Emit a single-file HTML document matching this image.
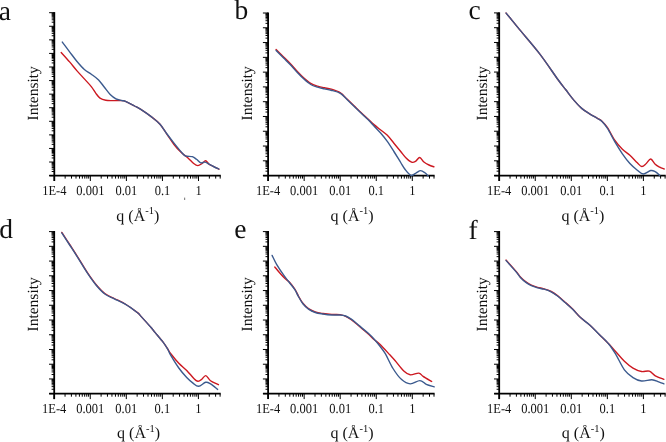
<!DOCTYPE html><html><head><meta charset="utf-8"><style>html,body{margin:0;padding:0;background:#fff;width:666px;height:442px;overflow:hidden}svg{display:block;will-change:transform}text{font-family:"Liberation Serif",serif;fill:#111;text-rendering:geometricPrecision}</style></head><body>
<svg width="666" height="442" viewBox="0 0 666 442">
<g><path d="M54.30 12.10 V181.00" stroke="#000" stroke-width="1.8" fill="none"/><path d="M49.30 175.60 H220.80" stroke="#000" stroke-width="1.8" fill="none"/><path d="M49.10 175.60H54.30M51.70 171.51H54.30M51.70 169.12H54.30M51.70 167.43H54.30M51.70 166.11H54.30M51.70 165.04H54.30M51.70 164.13H54.30M51.70 163.34H54.30M51.70 162.65H54.30M49.10 162.03H54.30M51.70 157.94H54.30M51.70 155.55H54.30M51.70 153.85H54.30M51.70 152.54H54.30M51.70 151.46H54.30M51.70 150.55H54.30M51.70 149.77H54.30M51.70 149.07H54.30M49.10 148.45H54.30M51.70 144.36H54.30M51.70 141.97H54.30M51.70 140.28H54.30M51.70 138.96H54.30M51.70 137.89H54.30M51.70 136.98H54.30M51.70 136.19H54.30M51.70 135.50H54.30M49.10 134.88H54.30M51.70 130.79H54.30M51.70 128.40H54.30M51.70 126.70H54.30M51.70 125.39H54.30M51.70 124.31H54.30M51.70 123.40H54.30M51.70 122.62H54.30M51.70 121.92H54.30M49.10 121.30H54.30M51.70 117.21H54.30M51.70 114.82H54.30M51.70 113.13H54.30M51.70 111.81H54.30M51.70 110.74H54.30M51.70 109.83H54.30M51.70 109.04H54.30M51.70 108.35H54.30M49.10 107.72H54.30M51.70 103.64H54.30M51.70 101.25H54.30M51.70 99.55H54.30M51.70 98.24H54.30M51.70 97.16H54.30M51.70 96.25H54.30M51.70 95.47H54.30M51.70 94.77H54.30M49.10 94.15H54.30M51.70 90.06H54.30M51.70 87.67H54.30M51.70 85.98H54.30M51.70 84.66H54.30M51.70 83.59H54.30M51.70 82.68H54.30M51.70 81.89H54.30M51.70 81.20H54.30M49.10 80.57H54.30M51.70 76.49H54.30M51.70 74.10H54.30M51.70 72.40H54.30M51.70 71.09H54.30M51.70 70.01H54.30M51.70 69.10H54.30M51.70 68.32H54.30M51.70 67.62H54.30M49.10 67.00H54.30M51.70 62.91H54.30M51.70 60.52H54.30M51.70 58.83H54.30M51.70 57.51H54.30M51.70 56.44H54.30M51.70 55.53H54.30M51.70 54.74H54.30M51.70 54.05H54.30M49.10 53.42H54.30M51.70 49.34H54.30M51.70 46.95H54.30M51.70 45.25H54.30M51.70 43.94H54.30M51.70 42.86H54.30M51.70 41.95H54.30M51.70 41.17H54.30M51.70 40.47H54.30M49.10 39.85H54.30M51.70 35.76H54.30M51.70 33.37H54.30M51.70 31.68H54.30M51.70 30.36H54.30M51.70 29.29H54.30M51.70 28.38H54.30M51.70 27.59H54.30M51.70 26.90H54.30M49.10 26.27H54.30M51.70 22.19H54.30M51.70 19.80H54.30M51.70 18.10H54.30M51.70 16.79H54.30M51.70 15.71H54.30M51.70 14.80H54.30M51.70 14.02H54.30M51.70 13.32H54.30M49.10 12.70H54.30M54.30 175.60V181.00M65.15 175.60V178.60M71.50 175.60V178.60M76.00 175.60V178.60M79.50 175.60V178.60M82.35 175.60V178.60M84.77 175.60V178.60M86.86 175.60V178.60M88.70 175.60V178.60M90.35 175.60V181.00M101.20 175.60V178.60M107.55 175.60V178.60M112.05 175.60V178.60M115.55 175.60V178.60M118.40 175.60V178.60M120.82 175.60V178.60M122.91 175.60V178.60M124.75 175.60V178.60M126.40 175.60V181.00M137.25 175.60V178.60M143.60 175.60V178.60M148.10 175.60V178.60M151.60 175.60V178.60M154.45 175.60V178.60M156.87 175.60V178.60M158.96 175.60V178.60M160.80 175.60V178.60M162.45 175.60V181.00M173.30 175.60V178.60M179.65 175.60V178.60M184.15 175.60V178.60M187.65 175.60V178.60M190.50 175.60V178.60M192.92 175.60V178.60M195.01 175.60V178.60M196.85 175.60V178.60M198.50 175.60V181.00M209.35 175.60V178.60M215.70 175.60V178.60M220.20 175.60V178.60" stroke="#000" stroke-width="1" fill="none"/><text transform="translate(54.30 195.00) scale(1 1.1)" font-size="12.5" text-anchor="middle">1E-4</text><text transform="translate(90.35 195.00) scale(1 1.1)" font-size="12.5" text-anchor="middle">0.001</text><text transform="translate(126.40 195.00) scale(1 1.1)" font-size="12.5" text-anchor="middle">0.01</text><text transform="translate(162.45 195.00) scale(1 1.1)" font-size="12.5" text-anchor="middle">0.1</text><text transform="translate(198.50 195.00) scale(1 1.1)" font-size="12.5" text-anchor="middle">1</text><text transform="translate(37.90 93.25) rotate(-90)" font-size="15.5" text-anchor="middle">Intensity</text><text x="116.30" y="220.70" font-size="16">q (Å<tspan font-size="10.5" dy="-6.5">-1</tspan><tspan dy="6.5">)</tspan></text><text x="-1.20" y="19.60" font-size="27.5">a</text><path d="M61.20 52.50 C62.60 54.07 67.00 58.88 69.60 61.90 C72.20 64.92 74.38 67.82 76.80 70.60 C79.22 73.38 81.68 75.93 84.10 78.60 C86.52 81.27 89.37 84.18 91.30 86.60 C93.23 89.02 94.25 91.18 95.70 93.10 C97.15 95.02 98.32 96.90 100.00 98.10 C101.68 99.30 103.62 99.88 105.80 100.30 C107.98 100.72 110.43 100.55 113.10 100.60 C115.77 100.65 119.65 100.43 121.80 100.60 C123.95 100.77 123.87 100.70 126.00 101.60 C128.13 102.50 132.13 104.70 134.60 106.00 C137.07 107.30 137.98 107.58 140.80 109.40 C143.62 111.22 148.30 114.43 151.50 116.90 C154.70 119.37 157.42 121.30 160.00 124.20 C162.58 127.10 164.67 130.92 167.00 134.30 C169.33 137.68 171.67 141.50 174.00 144.50 C176.33 147.50 178.67 150.07 181.00 152.30 C183.33 154.53 185.88 156.03 188.00 157.90 C190.12 159.77 192.05 162.22 193.70 163.50 C195.35 164.78 196.50 165.60 197.90 165.60 C199.30 165.60 200.82 164.32 202.10 163.50 C203.38 162.68 204.43 160.58 205.60 160.70 C206.77 160.82 207.82 163.27 209.10 164.20 C210.38 165.13 211.67 165.48 213.30 166.30 C214.93 167.12 217.97 168.63 218.90 169.10" stroke="#cc1820" stroke-width="1.4" fill="none" stroke-linecap="round" stroke-linejoin="round"/><path d="M62.30 42.10 C63.52 43.72 67.18 48.62 69.60 51.80 C72.02 54.98 74.38 58.30 76.80 61.20 C79.22 64.10 81.68 67.03 84.10 69.20 C86.52 71.37 88.88 72.40 91.30 74.20 C93.72 76.00 96.42 77.82 98.60 80.00 C100.78 82.18 102.47 84.88 104.40 87.30 C106.33 89.72 108.27 92.57 110.20 94.50 C112.13 96.43 114.07 97.90 116.00 98.90 C117.93 99.90 120.13 100.05 121.80 100.50 C123.47 100.95 123.87 100.68 126.00 101.60 C128.13 102.52 132.13 104.70 134.60 106.00 C137.07 107.30 137.98 107.58 140.80 109.40 C143.62 111.22 148.30 114.43 151.50 116.90 C154.70 119.37 157.42 121.35 160.00 124.20 C162.58 127.05 164.67 130.85 167.00 134.00 C169.33 137.15 171.67 140.17 174.00 143.10 C176.33 146.03 179.13 149.48 181.00 151.60 C182.87 153.72 183.32 154.95 185.20 155.80 C187.08 156.65 190.42 156.12 192.30 156.70 C194.18 157.28 195.10 158.28 196.50 159.30 C197.90 160.32 199.30 162.33 200.70 162.80 C202.10 163.27 203.50 161.87 204.90 162.10 C206.30 162.33 207.67 163.47 209.10 164.20 C210.53 164.93 211.87 165.68 213.50 166.50 C215.13 167.32 218.00 168.67 218.90 169.10" stroke="#3b5a8e" stroke-width="1.4" fill="none" stroke-linecap="round" stroke-linejoin="round"/></g>
<g><path d="M268.10 12.40 V181.00" stroke="#000" stroke-width="1.8" fill="none"/><path d="M263.10 175.60 H434.60" stroke="#000" stroke-width="1.8" fill="none"/><path d="M262.90 175.60H268.10M265.50 171.15H268.10M265.50 168.55H268.10M265.50 166.70H268.10M265.50 165.27H268.10M265.50 164.10H268.10M265.50 163.11H268.10M265.50 162.25H268.10M265.50 161.49H268.10M262.90 160.82H268.10M265.50 156.37H268.10M265.50 153.77H268.10M265.50 151.92H268.10M265.50 150.49H268.10M265.50 149.32H268.10M265.50 148.33H268.10M265.50 147.47H268.10M265.50 146.71H268.10M262.90 146.04H268.10M265.50 141.59H268.10M265.50 138.98H268.10M265.50 137.14H268.10M265.50 135.70H268.10M265.50 134.53H268.10M265.50 133.54H268.10M265.50 132.69H268.10M265.50 131.93H268.10M262.90 131.25H268.10M265.50 126.80H268.10M265.50 124.20H268.10M265.50 122.36H268.10M265.50 120.92H268.10M265.50 119.75H268.10M265.50 118.76H268.10M265.50 117.91H268.10M265.50 117.15H268.10M262.90 116.47H268.10M265.50 112.02H268.10M265.50 109.42H268.10M265.50 107.57H268.10M265.50 106.14H268.10M265.50 104.97H268.10M265.50 103.98H268.10M265.50 103.12H268.10M265.50 102.37H268.10M262.90 101.69H268.10M265.50 97.24H268.10M265.50 94.64H268.10M265.50 92.79H268.10M265.50 91.36H268.10M265.50 90.19H268.10M265.50 89.20H268.10M265.50 88.34H268.10M265.50 87.59H268.10M262.90 86.91H268.10M265.50 82.46H268.10M265.50 79.86H268.10M265.50 78.01H268.10M265.50 76.58H268.10M265.50 75.41H268.10M265.50 74.42H268.10M265.50 73.56H268.10M265.50 72.80H268.10M262.90 72.13H268.10M265.50 67.68H268.10M265.50 65.07H268.10M265.50 63.23H268.10M265.50 61.80H268.10M265.50 60.62H268.10M265.50 59.64H268.10M265.50 58.78H268.10M265.50 58.02H268.10M262.90 57.35H268.10M265.50 52.90H268.10M265.50 50.29H268.10M265.50 48.45H268.10M265.50 47.01H268.10M265.50 45.84H268.10M265.50 44.85H268.10M265.50 44.00H268.10M265.50 43.24H268.10M262.90 42.56H268.10M265.50 38.11H268.10M265.50 35.51H268.10M265.50 33.66H268.10M265.50 32.23H268.10M265.50 31.06H268.10M265.50 30.07H268.10M265.50 29.21H268.10M265.50 28.46H268.10M262.90 27.78H268.10M265.50 23.33H268.10M265.50 20.73H268.10M265.50 18.88H268.10M265.50 17.45H268.10M265.50 16.28H268.10M265.50 15.29H268.10M265.50 14.43H268.10M265.50 13.68H268.10M262.90 13.00H268.10M268.10 175.60V181.00M278.95 175.60V178.60M285.30 175.60V178.60M289.80 175.60V178.60M293.30 175.60V178.60M296.15 175.60V178.60M298.57 175.60V178.60M300.66 175.60V178.60M302.50 175.60V178.60M304.15 175.60V181.00M315.00 175.60V178.60M321.35 175.60V178.60M325.85 175.60V178.60M329.35 175.60V178.60M332.20 175.60V178.60M334.62 175.60V178.60M336.71 175.60V178.60M338.55 175.60V178.60M340.20 175.60V181.00M351.05 175.60V178.60M357.40 175.60V178.60M361.90 175.60V178.60M365.40 175.60V178.60M368.25 175.60V178.60M370.67 175.60V178.60M372.76 175.60V178.60M374.60 175.60V178.60M376.25 175.60V181.00M387.10 175.60V178.60M393.45 175.60V178.60M397.95 175.60V178.60M401.45 175.60V178.60M404.30 175.60V178.60M406.72 175.60V178.60M408.81 175.60V178.60M410.65 175.60V178.60M412.30 175.60V181.00M423.15 175.60V178.60M429.50 175.60V178.60M434.00 175.60V178.60" stroke="#000" stroke-width="1" fill="none"/><text transform="translate(268.10 195.00) scale(1 1.1)" font-size="12.5" text-anchor="middle">1E-4</text><text transform="translate(304.15 195.00) scale(1 1.1)" font-size="12.5" text-anchor="middle">0.001</text><text transform="translate(340.20 195.00) scale(1 1.1)" font-size="12.5" text-anchor="middle">0.01</text><text transform="translate(376.25 195.00) scale(1 1.1)" font-size="12.5" text-anchor="middle">0.1</text><text transform="translate(412.30 195.00) scale(1 1.1)" font-size="12.5" text-anchor="middle">1</text><text transform="translate(252.20 93.25) rotate(-90)" font-size="15.5" text-anchor="middle">Intensity</text><text x="330.60" y="220.70" font-size="16">q (Å<tspan font-size="10.5" dy="-6.5">-1</tspan><tspan dy="6.5">)</tspan></text><text x="234.40" y="19.40" font-size="27.5">b</text><path d="M276.10 49.50 C277.35 50.75 281.22 54.63 283.60 57.00 C285.98 59.37 288.15 61.33 290.40 63.70 C292.65 66.07 294.85 68.82 297.10 71.20 C299.35 73.58 301.63 75.97 303.90 78.00 C306.17 80.03 308.43 82.05 310.70 83.40 C312.97 84.75 315.23 85.37 317.50 86.10 C319.77 86.83 322.03 87.30 324.30 87.80 C326.57 88.30 328.42 88.27 331.10 89.10 C333.78 89.93 337.75 91.13 340.40 92.80 C343.05 94.47 344.73 96.93 347.00 99.10 C349.27 101.27 351.67 103.55 354.00 105.80 C356.33 108.05 358.67 110.40 361.00 112.60 C363.33 114.80 365.83 117.00 368.00 119.00 C370.17 121.00 371.93 122.80 374.00 124.60 C376.07 126.40 378.22 128.05 380.40 129.80 C382.58 131.55 384.85 132.87 387.10 135.10 C389.35 137.33 391.63 140.47 393.90 143.20 C396.17 145.93 398.67 149.03 400.70 151.50 C402.73 153.97 404.28 156.22 406.10 158.00 C407.92 159.78 410.02 161.65 411.60 162.20 C413.18 162.75 414.25 162.08 415.60 161.30 C416.95 160.52 418.32 157.38 419.70 157.50 C421.08 157.62 422.35 160.75 423.90 162.00 C425.45 163.25 427.32 164.20 429.00 165.00 C430.68 165.80 433.17 166.50 434.00 166.80" stroke="#cc1820" stroke-width="1.4" fill="none" stroke-linecap="round" stroke-linejoin="round"/><path d="M276.10 50.60 C277.35 51.85 281.22 55.73 283.60 58.10 C285.98 60.47 288.15 62.43 290.40 64.80 C292.65 67.17 294.85 69.92 297.10 72.30 C299.35 74.68 301.63 77.07 303.90 79.10 C306.17 81.13 308.43 83.15 310.70 84.50 C312.97 85.85 315.23 86.47 317.50 87.20 C319.77 87.93 322.03 88.40 324.30 88.90 C326.57 89.40 328.42 89.47 331.10 90.20 C333.78 90.93 337.75 91.73 340.40 93.30 C343.05 94.87 344.73 97.43 347.00 99.60 C349.27 101.77 351.67 104.05 354.00 106.30 C356.33 108.55 358.67 110.88 361.00 113.10 C363.33 115.32 365.83 117.45 368.00 119.60 C370.17 121.75 371.93 123.80 374.00 126.00 C376.07 128.20 378.22 130.27 380.40 132.80 C382.58 135.33 384.85 138.08 387.10 141.20 C389.35 144.32 391.63 147.95 393.90 151.50 C396.17 155.05 398.88 159.58 400.70 162.50 C402.52 165.42 403.08 166.85 404.80 169.00 C406.52 171.15 409.08 174.77 411.00 175.40 C412.92 176.03 414.70 173.60 416.30 172.80 C417.90 172.00 419.15 170.60 420.60 170.60 C422.05 170.60 423.73 171.90 425.00 172.80 C426.27 173.70 427.67 175.47 428.20 176.00" stroke="#3b5a8e" stroke-width="1.4" fill="none" stroke-linecap="round" stroke-linejoin="round"/></g>
<g><path d="M499.20 12.30 V181.00" stroke="#000" stroke-width="1.8" fill="none"/><path d="M494.20 175.60 H665.70" stroke="#000" stroke-width="1.8" fill="none"/><path d="M494.00 175.60H499.20M496.60 171.15H499.20M496.60 168.54H499.20M496.60 166.69H499.20M496.60 165.26H499.20M496.60 164.09H499.20M496.60 163.10H499.20M496.60 162.24H499.20M496.60 161.49H499.20M494.00 160.81H499.20M496.60 156.36H499.20M496.60 153.75H499.20M496.60 151.90H499.20M496.60 150.47H499.20M496.60 149.30H499.20M496.60 148.31H499.20M496.60 147.45H499.20M496.60 146.69H499.20M494.00 146.02H499.20M496.60 141.57H499.20M496.60 138.96H499.20M496.60 137.11H499.20M496.60 135.68H499.20M496.60 134.51H499.20M496.60 133.52H499.20M496.60 132.66H499.20M496.60 131.90H499.20M494.00 131.23H499.20M496.60 126.77H499.20M496.60 124.17H499.20M496.60 122.32H499.20M496.60 120.89H499.20M496.60 119.72H499.20M496.60 118.73H499.20M496.60 117.87H499.20M496.60 117.11H499.20M494.00 116.44H499.20M496.60 111.98H499.20M496.60 109.38H499.20M496.60 107.53H499.20M496.60 106.10H499.20M496.60 104.93H499.20M496.60 103.94H499.20M496.60 103.08H499.20M496.60 102.32H499.20M494.00 101.65H499.20M496.60 97.19H499.20M496.60 94.59H499.20M496.60 92.74H499.20M496.60 91.31H499.20M496.60 90.14H499.20M496.60 89.15H499.20M496.60 88.29H499.20M496.60 87.53H499.20M494.00 86.85H499.20M496.60 82.40H499.20M496.60 79.80H499.20M496.60 77.95H499.20M496.60 76.52H499.20M496.60 75.34H499.20M496.60 74.35H499.20M496.60 73.50H499.20M496.60 72.74H499.20M494.00 72.06H499.20M496.60 67.61H499.20M496.60 65.01H499.20M496.60 63.16H499.20M496.60 61.73H499.20M496.60 60.55H499.20M496.60 59.56H499.20M496.60 58.71H499.20M496.60 57.95H499.20M494.00 57.27H499.20M496.60 52.82H499.20M496.60 50.22H499.20M496.60 48.37H499.20M496.60 46.93H499.20M496.60 45.76H499.20M496.60 44.77H499.20M496.60 43.92H499.20M496.60 43.16H499.20M494.00 42.48H499.20M496.60 38.03H499.20M496.60 35.42H499.20M496.60 33.58H499.20M496.60 32.14H499.20M496.60 30.97H499.20M496.60 29.98H499.20M496.60 29.12H499.20M496.60 28.37H499.20M494.00 27.69H499.20M496.60 23.24H499.20M496.60 20.63H499.20M496.60 18.79H499.20M496.60 17.35H499.20M496.60 16.18H499.20M496.60 15.19H499.20M496.60 14.33H499.20M496.60 13.58H499.20M494.00 12.90H499.20M499.20 175.60V181.00M510.05 175.60V178.60M516.40 175.60V178.60M520.90 175.60V178.60M524.40 175.60V178.60M527.25 175.60V178.60M529.67 175.60V178.60M531.76 175.60V178.60M533.60 175.60V178.60M535.25 175.60V181.00M546.10 175.60V178.60M552.45 175.60V178.60M556.95 175.60V178.60M560.45 175.60V178.60M563.30 175.60V178.60M565.72 175.60V178.60M567.81 175.60V178.60M569.65 175.60V178.60M571.30 175.60V181.00M582.15 175.60V178.60M588.50 175.60V178.60M593.00 175.60V178.60M596.50 175.60V178.60M599.35 175.60V178.60M601.77 175.60V178.60M603.86 175.60V178.60M605.70 175.60V178.60M607.35 175.60V181.00M618.20 175.60V178.60M624.55 175.60V178.60M629.05 175.60V178.60M632.55 175.60V178.60M635.40 175.60V178.60M637.82 175.60V178.60M639.91 175.60V178.60M641.75 175.60V178.60M643.40 175.60V181.00M654.25 175.60V178.60M660.60 175.60V178.60M665.10 175.60V178.60" stroke="#000" stroke-width="1" fill="none"/><text transform="translate(499.20 195.00) scale(1 1.1)" font-size="12.5" text-anchor="middle">1E-4</text><text transform="translate(535.25 195.00) scale(1 1.1)" font-size="12.5" text-anchor="middle">0.001</text><text transform="translate(571.30 195.00) scale(1 1.1)" font-size="12.5" text-anchor="middle">0.01</text><text transform="translate(607.35 195.00) scale(1 1.1)" font-size="12.5" text-anchor="middle">0.1</text><text transform="translate(643.40 195.00) scale(1 1.1)" font-size="12.5" text-anchor="middle">1</text><text transform="translate(487.30 93.25) rotate(-90)" font-size="15.5" text-anchor="middle">Intensity</text><text x="561.40" y="220.70" font-size="16">q (Å<tspan font-size="10.5" dy="-6.5">-1</tspan><tspan dy="6.5">)</tspan></text><text x="468.40" y="19.20" font-size="27.5">c</text><path d="M506.10 13.10 C508.32 15.82 513.80 22.60 519.40 29.40 C525.00 36.20 533.28 45.55 539.70 53.90 C546.12 62.25 553.55 73.52 557.90 79.50 C562.25 85.48 563.15 86.37 565.80 89.80 C568.45 93.23 571.15 97.00 573.80 100.10 C576.45 103.20 579.07 106.12 581.70 108.40 C584.33 110.68 586.97 112.15 589.60 113.80 C592.23 115.45 595.43 117.07 597.50 118.30 C599.57 119.53 600.33 119.63 602.00 121.20 C603.67 122.77 605.35 124.50 607.50 127.70 C609.65 130.90 612.42 136.80 614.90 140.40 C617.38 144.00 619.90 146.82 622.40 149.30 C624.90 151.78 627.42 153.05 629.90 155.30 C632.38 157.55 635.32 160.93 637.30 162.80 C639.28 164.67 640.30 166.38 641.80 166.50 C643.30 166.62 644.82 164.75 646.30 163.50 C647.78 162.25 649.22 158.87 650.70 159.00 C652.18 159.13 653.70 162.93 655.20 164.30 C656.70 165.67 658.20 166.42 659.70 167.20 C661.20 167.98 663.45 168.70 664.20 169.00" stroke="#cc1820" stroke-width="1.4" fill="none" stroke-linecap="round" stroke-linejoin="round"/><path d="M506.10 13.10 C508.32 15.82 513.80 22.60 519.40 29.40 C525.00 36.20 533.28 45.55 539.70 53.90 C546.12 62.25 553.55 73.52 557.90 79.50 C562.25 85.48 563.15 86.37 565.80 89.80 C568.45 93.23 571.15 97.00 573.80 100.10 C576.45 103.20 579.07 106.12 581.70 108.40 C584.33 110.68 586.97 112.12 589.60 113.80 C592.23 115.48 595.43 117.22 597.50 118.50 C599.57 119.78 600.33 119.85 602.00 121.50 C603.67 123.15 605.35 125.00 607.50 128.40 C609.65 131.80 612.42 137.67 614.90 141.90 C617.38 146.13 619.90 150.20 622.40 153.80 C624.90 157.40 627.42 160.77 629.90 163.50 C632.38 166.23 635.07 168.45 637.30 170.20 C639.53 171.95 641.07 173.95 643.30 174.00 C645.53 174.05 648.72 170.88 650.70 170.50 C652.68 170.12 653.70 170.88 655.20 171.70 C656.70 172.52 658.95 174.78 659.70 175.40" stroke="#3b5a8e" stroke-width="1.4" fill="none" stroke-linecap="round" stroke-linejoin="round"/></g>
<g><path d="M54.20 231.00 V399.10" stroke="#000" stroke-width="1.8" fill="none"/><path d="M49.20 393.70 H220.70" stroke="#000" stroke-width="1.8" fill="none"/><path d="M49.00 393.70H54.20M51.60 389.26H54.20M51.60 386.67H54.20M51.60 384.83H54.20M51.60 383.40H54.20M51.60 382.23H54.20M51.60 381.25H54.20M51.60 380.39H54.20M51.60 379.64H54.20M49.00 378.96H54.20M51.60 374.53H54.20M51.60 371.93H54.20M51.60 370.09H54.20M51.60 368.66H54.20M51.60 367.50H54.20M51.60 366.51H54.20M51.60 365.66H54.20M51.60 364.90H54.20M49.00 364.23H54.20M51.60 359.79H54.20M51.60 357.20H54.20M51.60 355.36H54.20M51.60 353.93H54.20M51.60 352.76H54.20M51.60 351.77H54.20M51.60 350.92H54.20M51.60 350.17H54.20M49.00 349.49H54.20M51.60 345.05H54.20M51.60 342.46H54.20M51.60 340.62H54.20M51.60 339.19H54.20M51.60 338.02H54.20M51.60 337.04H54.20M51.60 336.18H54.20M51.60 335.43H54.20M49.00 334.75H54.20M51.60 330.32H54.20M51.60 327.72H54.20M51.60 325.88H54.20M51.60 324.45H54.20M51.60 323.29H54.20M51.60 322.30H54.20M51.60 321.45H54.20M51.60 320.69H54.20M49.00 320.02H54.20M51.60 315.58H54.20M51.60 312.99H54.20M51.60 311.15H54.20M51.60 309.72H54.20M51.60 308.55H54.20M51.60 307.56H54.20M51.60 306.71H54.20M51.60 305.96H54.20M49.00 305.28H54.20M51.60 300.85H54.20M51.60 298.25H54.20M51.60 296.41H54.20M51.60 294.98H54.20M51.60 293.81H54.20M51.60 292.83H54.20M51.60 291.97H54.20M51.60 291.22H54.20M49.00 290.55H54.20M51.60 286.11H54.20M51.60 283.51H54.20M51.60 281.67H54.20M51.60 280.25H54.20M51.60 279.08H54.20M51.60 278.09H54.20M51.60 277.24H54.20M51.60 276.48H54.20M49.00 275.81H54.20M51.60 271.37H54.20M51.60 268.78H54.20M51.60 266.94H54.20M51.60 265.51H54.20M51.60 264.34H54.20M51.60 263.36H54.20M51.60 262.50H54.20M51.60 261.75H54.20M49.00 261.07H54.20M51.60 256.64H54.20M51.60 254.04H54.20M51.60 252.20H54.20M51.60 250.77H54.20M51.60 249.61H54.20M51.60 248.62H54.20M51.60 247.76H54.20M51.60 247.01H54.20M49.00 246.34H54.20M51.60 241.90H54.20M51.60 239.31H54.20M51.60 237.46H54.20M51.60 236.04H54.20M51.60 234.87H54.20M51.60 233.88H54.20M51.60 233.03H54.20M51.60 232.27H54.20M49.00 231.60H54.20M54.20 393.70V399.10M65.05 393.70V396.70M71.40 393.70V396.70M75.90 393.70V396.70M79.40 393.70V396.70M82.25 393.70V396.70M84.67 393.70V396.70M86.76 393.70V396.70M88.60 393.70V396.70M90.25 393.70V399.10M101.10 393.70V396.70M107.45 393.70V396.70M111.95 393.70V396.70M115.45 393.70V396.70M118.30 393.70V396.70M120.72 393.70V396.70M122.81 393.70V396.70M124.65 393.70V396.70M126.30 393.70V399.10M137.15 393.70V396.70M143.50 393.70V396.70M148.00 393.70V396.70M151.50 393.70V396.70M154.35 393.70V396.70M156.77 393.70V396.70M158.86 393.70V396.70M160.70 393.70V396.70M162.35 393.70V399.10M173.20 393.70V396.70M179.55 393.70V396.70M184.05 393.70V396.70M187.55 393.70V396.70M190.40 393.70V396.70M192.82 393.70V396.70M194.91 393.70V396.70M196.75 393.70V396.70M198.40 393.70V399.10M209.25 393.70V396.70M215.60 393.70V396.70M220.10 393.70V396.70" stroke="#000" stroke-width="1" fill="none"/><text transform="translate(54.20 413.10) scale(1 1.1)" font-size="12.5" text-anchor="middle">1E-4</text><text transform="translate(90.25 413.10) scale(1 1.1)" font-size="12.5" text-anchor="middle">0.001</text><text transform="translate(126.30 413.10) scale(1 1.1)" font-size="12.5" text-anchor="middle">0.01</text><text transform="translate(162.35 413.10) scale(1 1.1)" font-size="12.5" text-anchor="middle">0.1</text><text transform="translate(198.40 413.10) scale(1 1.1)" font-size="12.5" text-anchor="middle">1</text><text transform="translate(37.90 304.35) rotate(-90)" font-size="15.5" text-anchor="middle">Intensity</text><text x="117.10" y="438.40" font-size="16">q (Å<tspan font-size="10.5" dy="-6.5">-1</tspan><tspan dy="6.5">)</tspan></text><text x="-0.80" y="238.20" font-size="27.5">d</text><path d="M61.80 232.40 C63.17 234.50 67.28 240.80 70.00 245.00 C72.72 249.20 75.25 253.08 78.10 257.60 C80.95 262.12 84.08 267.58 87.10 272.10 C90.12 276.62 93.18 281.08 96.20 284.70 C99.22 288.32 102.18 291.50 105.20 293.80 C108.22 296.10 110.97 296.80 114.30 298.50 C117.63 300.20 121.33 301.65 125.20 304.00 C129.07 306.35 134.90 310.58 137.50 312.60 C140.10 314.62 138.47 313.53 140.80 316.10 C143.13 318.67 149.13 325.28 151.50 328.00 C153.87 330.72 153.10 330.08 155.00 332.40 C156.90 334.72 160.78 339.13 162.90 341.90 C165.02 344.67 166.38 347.02 167.70 349.00 C169.02 350.98 168.95 351.42 170.80 353.80 C172.65 356.18 176.15 360.53 178.80 363.30 C181.45 366.07 183.80 367.50 186.70 370.40 C189.60 373.30 193.82 379.12 196.20 380.70 C198.58 382.28 199.42 380.75 201.00 379.90 C202.58 379.05 204.12 375.47 205.70 375.60 C207.28 375.73 208.38 379.18 210.50 380.70 C212.62 382.22 217.08 384.03 218.40 384.70" stroke="#cc1820" stroke-width="1.4" fill="none" stroke-linecap="round" stroke-linejoin="round"/><path d="M61.80 232.90 C63.17 235.00 67.28 241.30 70.00 245.50 C72.72 249.70 75.25 253.58 78.10 258.10 C80.95 262.62 84.08 268.08 87.10 272.60 C90.12 277.12 93.18 281.58 96.20 285.20 C99.22 288.82 102.18 292.03 105.20 294.30 C108.22 296.57 110.97 297.15 114.30 298.80 C117.63 300.45 121.33 301.87 125.20 304.20 C129.07 306.53 134.90 310.82 137.50 312.80 C140.10 314.78 138.47 313.57 140.80 316.10 C143.13 318.63 149.13 325.28 151.50 328.00 C153.87 330.72 153.10 330.08 155.00 332.40 C156.90 334.72 160.78 339.10 162.90 341.90 C165.02 344.70 166.38 346.95 167.70 349.20 C169.02 351.45 168.95 352.27 170.80 355.40 C172.65 358.53 176.15 364.32 178.80 368.00 C181.45 371.68 184.33 374.98 186.70 377.50 C189.07 380.02 191.02 381.63 193.00 383.10 C194.98 384.57 196.48 386.43 198.60 386.30 C200.72 386.17 203.72 382.70 205.70 382.30 C207.68 381.90 208.52 382.72 210.50 383.90 C212.48 385.08 216.42 388.48 217.60 389.40" stroke="#3b5a8e" stroke-width="1.4" fill="none" stroke-linecap="round" stroke-linejoin="round"/></g>
<g><path d="M268.10 231.00 V399.10" stroke="#000" stroke-width="1.8" fill="none"/><path d="M263.10 393.70 H434.60" stroke="#000" stroke-width="1.8" fill="none"/><path d="M262.90 393.70H268.10M265.50 389.26H268.10M265.50 386.67H268.10M265.50 384.83H268.10M265.50 383.40H268.10M265.50 382.23H268.10M265.50 381.25H268.10M265.50 380.39H268.10M265.50 379.64H268.10M262.90 378.96H268.10M265.50 374.53H268.10M265.50 371.93H268.10M265.50 370.09H268.10M265.50 368.66H268.10M265.50 367.50H268.10M265.50 366.51H268.10M265.50 365.66H268.10M265.50 364.90H268.10M262.90 364.23H268.10M265.50 359.79H268.10M265.50 357.20H268.10M265.50 355.36H268.10M265.50 353.93H268.10M265.50 352.76H268.10M265.50 351.77H268.10M265.50 350.92H268.10M265.50 350.17H268.10M262.90 349.49H268.10M265.50 345.05H268.10M265.50 342.46H268.10M265.50 340.62H268.10M265.50 339.19H268.10M265.50 338.02H268.10M265.50 337.04H268.10M265.50 336.18H268.10M265.50 335.43H268.10M262.90 334.75H268.10M265.50 330.32H268.10M265.50 327.72H268.10M265.50 325.88H268.10M265.50 324.45H268.10M265.50 323.29H268.10M265.50 322.30H268.10M265.50 321.45H268.10M265.50 320.69H268.10M262.90 320.02H268.10M265.50 315.58H268.10M265.50 312.99H268.10M265.50 311.15H268.10M265.50 309.72H268.10M265.50 308.55H268.10M265.50 307.56H268.10M265.50 306.71H268.10M265.50 305.96H268.10M262.90 305.28H268.10M265.50 300.85H268.10M265.50 298.25H268.10M265.50 296.41H268.10M265.50 294.98H268.10M265.50 293.81H268.10M265.50 292.83H268.10M265.50 291.97H268.10M265.50 291.22H268.10M262.90 290.55H268.10M265.50 286.11H268.10M265.50 283.51H268.10M265.50 281.67H268.10M265.50 280.25H268.10M265.50 279.08H268.10M265.50 278.09H268.10M265.50 277.24H268.10M265.50 276.48H268.10M262.90 275.81H268.10M265.50 271.37H268.10M265.50 268.78H268.10M265.50 266.94H268.10M265.50 265.51H268.10M265.50 264.34H268.10M265.50 263.36H268.10M265.50 262.50H268.10M265.50 261.75H268.10M262.90 261.07H268.10M265.50 256.64H268.10M265.50 254.04H268.10M265.50 252.20H268.10M265.50 250.77H268.10M265.50 249.61H268.10M265.50 248.62H268.10M265.50 247.76H268.10M265.50 247.01H268.10M262.90 246.34H268.10M265.50 241.90H268.10M265.50 239.31H268.10M265.50 237.46H268.10M265.50 236.04H268.10M265.50 234.87H268.10M265.50 233.88H268.10M265.50 233.03H268.10M265.50 232.27H268.10M262.90 231.60H268.10M268.10 393.70V399.10M278.95 393.70V396.70M285.30 393.70V396.70M289.80 393.70V396.70M293.30 393.70V396.70M296.15 393.70V396.70M298.57 393.70V396.70M300.66 393.70V396.70M302.50 393.70V396.70M304.15 393.70V399.10M315.00 393.70V396.70M321.35 393.70V396.70M325.85 393.70V396.70M329.35 393.70V396.70M332.20 393.70V396.70M334.62 393.70V396.70M336.71 393.70V396.70M338.55 393.70V396.70M340.20 393.70V399.10M351.05 393.70V396.70M357.40 393.70V396.70M361.90 393.70V396.70M365.40 393.70V396.70M368.25 393.70V396.70M370.67 393.70V396.70M372.76 393.70V396.70M374.60 393.70V396.70M376.25 393.70V399.10M387.10 393.70V396.70M393.45 393.70V396.70M397.95 393.70V396.70M401.45 393.70V396.70M404.30 393.70V396.70M406.72 393.70V396.70M408.81 393.70V396.70M410.65 393.70V396.70M412.30 393.70V399.10M423.15 393.70V396.70M429.50 393.70V396.70M434.00 393.70V396.70" stroke="#000" stroke-width="1" fill="none"/><text transform="translate(268.10 413.10) scale(1 1.1)" font-size="12.5" text-anchor="middle">1E-4</text><text transform="translate(304.15 413.10) scale(1 1.1)" font-size="12.5" text-anchor="middle">0.001</text><text transform="translate(340.20 413.10) scale(1 1.1)" font-size="12.5" text-anchor="middle">0.01</text><text transform="translate(376.25 413.10) scale(1 1.1)" font-size="12.5" text-anchor="middle">0.1</text><text transform="translate(412.30 413.10) scale(1 1.1)" font-size="12.5" text-anchor="middle">1</text><text transform="translate(252.20 304.35) rotate(-90)" font-size="15.5" text-anchor="middle">Intensity</text><text x="330.50" y="438.40" font-size="16">q (Å<tspan font-size="10.5" dy="-6.5">-1</tspan><tspan dy="6.5">)</tspan></text><text x="234.20" y="238.00" font-size="27.5">e</text><path d="M274.80 267.00 C275.60 267.97 277.90 270.87 279.60 272.80 C281.30 274.73 283.38 277.07 285.00 278.60 C286.62 280.13 287.63 280.20 289.30 282.00 C290.97 283.80 293.48 287.07 295.00 289.40 C296.52 291.73 297.08 293.68 298.40 296.00 C299.72 298.32 301.22 301.20 302.90 303.30 C304.58 305.40 306.43 307.15 308.50 308.60 C310.57 310.05 312.88 311.18 315.30 312.00 C317.72 312.82 320.27 313.10 323.00 313.50 C325.73 313.90 328.87 314.22 331.70 314.40 C334.53 314.58 337.67 314.28 340.00 314.60 C342.33 314.92 343.82 315.43 345.70 316.30 C347.58 317.17 349.42 318.47 351.30 319.80 C353.18 321.13 355.10 322.73 357.00 324.30 C358.90 325.87 360.82 327.60 362.70 329.20 C364.58 330.80 366.42 332.20 368.30 333.90 C370.18 335.60 372.12 337.70 374.00 339.40 C375.88 341.10 376.97 341.53 379.60 344.10 C382.23 346.67 387.23 352.07 389.80 354.80 C392.37 357.53 392.67 357.80 395.00 360.50 C397.33 363.20 401.27 368.62 403.80 371.00 C406.33 373.38 407.70 374.45 410.20 374.80 C412.70 375.15 416.65 372.85 418.80 373.10 C420.95 373.35 420.95 374.90 423.10 376.30 C425.25 377.70 430.27 380.63 431.70 381.50" stroke="#cc1820" stroke-width="1.4" fill="none" stroke-linecap="round" stroke-linejoin="round"/><path d="M272.10 255.40 C272.90 256.98 274.97 261.60 276.90 264.90 C278.83 268.20 281.63 272.27 283.70 275.20 C285.77 278.13 287.42 280.05 289.30 282.50 C291.18 284.95 293.48 287.57 295.00 289.90 C296.52 292.23 297.08 294.18 298.40 296.50 C299.72 298.82 301.22 301.70 302.90 303.80 C304.58 305.90 306.43 307.65 308.50 309.10 C310.57 310.55 312.88 311.68 315.30 312.50 C317.72 313.32 320.27 313.58 323.00 314.00 C325.73 314.42 328.87 314.83 331.70 315.00 C334.53 315.17 337.67 314.83 340.00 315.00 C342.33 315.17 343.82 315.30 345.70 316.00 C347.58 316.70 349.42 317.92 351.30 319.20 C353.18 320.48 355.10 322.13 357.00 323.70 C358.90 325.27 360.82 327.00 362.70 328.60 C364.58 330.20 366.42 331.57 368.30 333.30 C370.18 335.03 372.12 336.92 374.00 339.00 C375.88 341.08 377.72 343.35 379.60 345.80 C381.48 348.25 383.07 349.92 385.30 353.70 C387.53 357.48 390.28 364.18 393.00 368.50 C395.72 372.82 398.73 377.03 401.60 379.60 C404.47 382.17 407.15 383.73 410.20 383.90 C413.25 384.07 417.22 380.53 419.90 380.60 C422.58 380.67 423.92 383.27 426.30 384.30 C428.68 385.33 432.88 386.38 434.20 386.80" stroke="#3b5a8e" stroke-width="1.4" fill="none" stroke-linecap="round" stroke-linejoin="round"/></g>
<g><path d="M499.20 231.00 V399.10" stroke="#000" stroke-width="1.8" fill="none"/><path d="M494.20 393.70 H665.70" stroke="#000" stroke-width="1.8" fill="none"/><path d="M494.00 393.70H499.20M496.60 389.26H499.20M496.60 386.67H499.20M496.60 384.83H499.20M496.60 383.40H499.20M496.60 382.23H499.20M496.60 381.25H499.20M496.60 380.39H499.20M496.60 379.64H499.20M494.00 378.96H499.20M496.60 374.53H499.20M496.60 371.93H499.20M496.60 370.09H499.20M496.60 368.66H499.20M496.60 367.50H499.20M496.60 366.51H499.20M496.60 365.66H499.20M496.60 364.90H499.20M494.00 364.23H499.20M496.60 359.79H499.20M496.60 357.20H499.20M496.60 355.36H499.20M496.60 353.93H499.20M496.60 352.76H499.20M496.60 351.77H499.20M496.60 350.92H499.20M496.60 350.17H499.20M494.00 349.49H499.20M496.60 345.05H499.20M496.60 342.46H499.20M496.60 340.62H499.20M496.60 339.19H499.20M496.60 338.02H499.20M496.60 337.04H499.20M496.60 336.18H499.20M496.60 335.43H499.20M494.00 334.75H499.20M496.60 330.32H499.20M496.60 327.72H499.20M496.60 325.88H499.20M496.60 324.45H499.20M496.60 323.29H499.20M496.60 322.30H499.20M496.60 321.45H499.20M496.60 320.69H499.20M494.00 320.02H499.20M496.60 315.58H499.20M496.60 312.99H499.20M496.60 311.15H499.20M496.60 309.72H499.20M496.60 308.55H499.20M496.60 307.56H499.20M496.60 306.71H499.20M496.60 305.96H499.20M494.00 305.28H499.20M496.60 300.85H499.20M496.60 298.25H499.20M496.60 296.41H499.20M496.60 294.98H499.20M496.60 293.81H499.20M496.60 292.83H499.20M496.60 291.97H499.20M496.60 291.22H499.20M494.00 290.55H499.20M496.60 286.11H499.20M496.60 283.51H499.20M496.60 281.67H499.20M496.60 280.25H499.20M496.60 279.08H499.20M496.60 278.09H499.20M496.60 277.24H499.20M496.60 276.48H499.20M494.00 275.81H499.20M496.60 271.37H499.20M496.60 268.78H499.20M496.60 266.94H499.20M496.60 265.51H499.20M496.60 264.34H499.20M496.60 263.36H499.20M496.60 262.50H499.20M496.60 261.75H499.20M494.00 261.07H499.20M496.60 256.64H499.20M496.60 254.04H499.20M496.60 252.20H499.20M496.60 250.77H499.20M496.60 249.61H499.20M496.60 248.62H499.20M496.60 247.76H499.20M496.60 247.01H499.20M494.00 246.34H499.20M496.60 241.90H499.20M496.60 239.31H499.20M496.60 237.46H499.20M496.60 236.04H499.20M496.60 234.87H499.20M496.60 233.88H499.20M496.60 233.03H499.20M496.60 232.27H499.20M494.00 231.60H499.20M499.20 393.70V399.10M510.05 393.70V396.70M516.40 393.70V396.70M520.90 393.70V396.70M524.40 393.70V396.70M527.25 393.70V396.70M529.67 393.70V396.70M531.76 393.70V396.70M533.60 393.70V396.70M535.25 393.70V399.10M546.10 393.70V396.70M552.45 393.70V396.70M556.95 393.70V396.70M560.45 393.70V396.70M563.30 393.70V396.70M565.72 393.70V396.70M567.81 393.70V396.70M569.65 393.70V396.70M571.30 393.70V399.10M582.15 393.70V396.70M588.50 393.70V396.70M593.00 393.70V396.70M596.50 393.70V396.70M599.35 393.70V396.70M601.77 393.70V396.70M603.86 393.70V396.70M605.70 393.70V396.70M607.35 393.70V399.10M618.20 393.70V396.70M624.55 393.70V396.70M629.05 393.70V396.70M632.55 393.70V396.70M635.40 393.70V396.70M637.82 393.70V396.70M639.91 393.70V396.70M641.75 393.70V396.70M643.40 393.70V399.10M654.25 393.70V396.70M660.60 393.70V396.70M665.10 393.70V396.70" stroke="#000" stroke-width="1" fill="none"/><text transform="translate(499.20 413.10) scale(1 1.1)" font-size="12.5" text-anchor="middle">1E-4</text><text transform="translate(535.25 413.10) scale(1 1.1)" font-size="12.5" text-anchor="middle">0.001</text><text transform="translate(571.30 413.10) scale(1 1.1)" font-size="12.5" text-anchor="middle">0.01</text><text transform="translate(607.35 413.10) scale(1 1.1)" font-size="12.5" text-anchor="middle">0.1</text><text transform="translate(643.40 413.10) scale(1 1.1)" font-size="12.5" text-anchor="middle">1</text><text transform="translate(487.30 304.35) rotate(-90)" font-size="15.5" text-anchor="middle">Intensity</text><text x="561.80" y="438.40" font-size="16">q (Å<tspan font-size="10.5" dy="-6.5">-1</tspan><tspan dy="6.5">)</tspan></text><text x="468.60" y="239.30" font-size="27.5">f</text><path d="M506.10 260.10 C507.73 261.93 513.52 268.30 515.90 271.10 C518.28 273.90 518.73 275.10 520.40 276.90 C522.07 278.70 524.08 280.52 525.90 281.90 C527.72 283.28 529.35 284.28 531.30 285.20 C533.25 286.12 535.48 286.80 537.60 287.40 C539.72 288.00 541.73 288.12 544.00 288.80 C546.27 289.48 548.95 290.37 551.20 291.50 C553.45 292.63 555.23 293.87 557.50 295.60 C559.77 297.33 562.23 299.62 564.80 301.90 C567.37 304.18 570.28 306.68 572.90 309.30 C575.52 311.92 577.65 314.95 580.50 317.60 C583.35 320.25 586.92 322.43 590.00 325.20 C593.08 327.97 595.85 331.07 599.00 334.20 C602.15 337.33 606.10 341.07 608.90 344.00 C611.70 346.93 613.22 348.93 615.80 351.80 C618.38 354.67 621.53 358.48 624.40 361.20 C627.27 363.92 630.15 366.38 633.00 368.10 C635.85 369.82 638.78 370.98 641.50 371.50 C644.22 372.02 647.00 370.48 649.30 371.20 C651.60 371.92 652.87 374.45 655.30 375.80 C657.73 377.15 662.47 378.72 663.90 379.30" stroke="#cc1820" stroke-width="1.4" fill="none" stroke-linecap="round" stroke-linejoin="round"/><path d="M506.10 260.60 C507.73 262.43 513.52 268.80 515.90 271.60 C518.28 274.40 518.73 275.60 520.40 277.40 C522.07 279.20 524.08 281.03 525.90 282.40 C527.72 283.77 529.35 284.70 531.30 285.60 C533.25 286.50 535.48 287.20 537.60 287.80 C539.72 288.40 541.73 288.52 544.00 289.20 C546.27 289.88 548.95 290.77 551.20 291.90 C553.45 293.03 555.23 294.27 557.50 296.00 C559.77 297.73 562.23 300.03 564.80 302.30 C567.37 304.57 570.28 307.05 572.90 309.60 C575.52 312.15 577.65 315.00 580.50 317.60 C583.35 320.20 586.92 322.43 590.00 325.20 C593.08 327.97 595.85 331.03 599.00 334.20 C602.15 337.37 606.10 340.83 608.90 344.20 C611.70 347.57 613.22 350.13 615.80 354.40 C618.38 358.67 621.53 365.93 624.40 369.80 C627.27 373.67 630.15 375.73 633.00 377.60 C635.85 379.47 638.35 380.63 641.50 381.00 C644.65 381.37 649.03 379.65 651.90 379.80 C654.77 379.95 656.70 381.22 658.70 381.90 C660.70 382.58 663.03 383.57 663.90 383.90" stroke="#3b5a8e" stroke-width="1.4" fill="none" stroke-linecap="round" stroke-linejoin="round"/></g>
<rect x="184" y="197.6" width="1.2" height="2.4" fill="#888"/>
</svg></body></html>
